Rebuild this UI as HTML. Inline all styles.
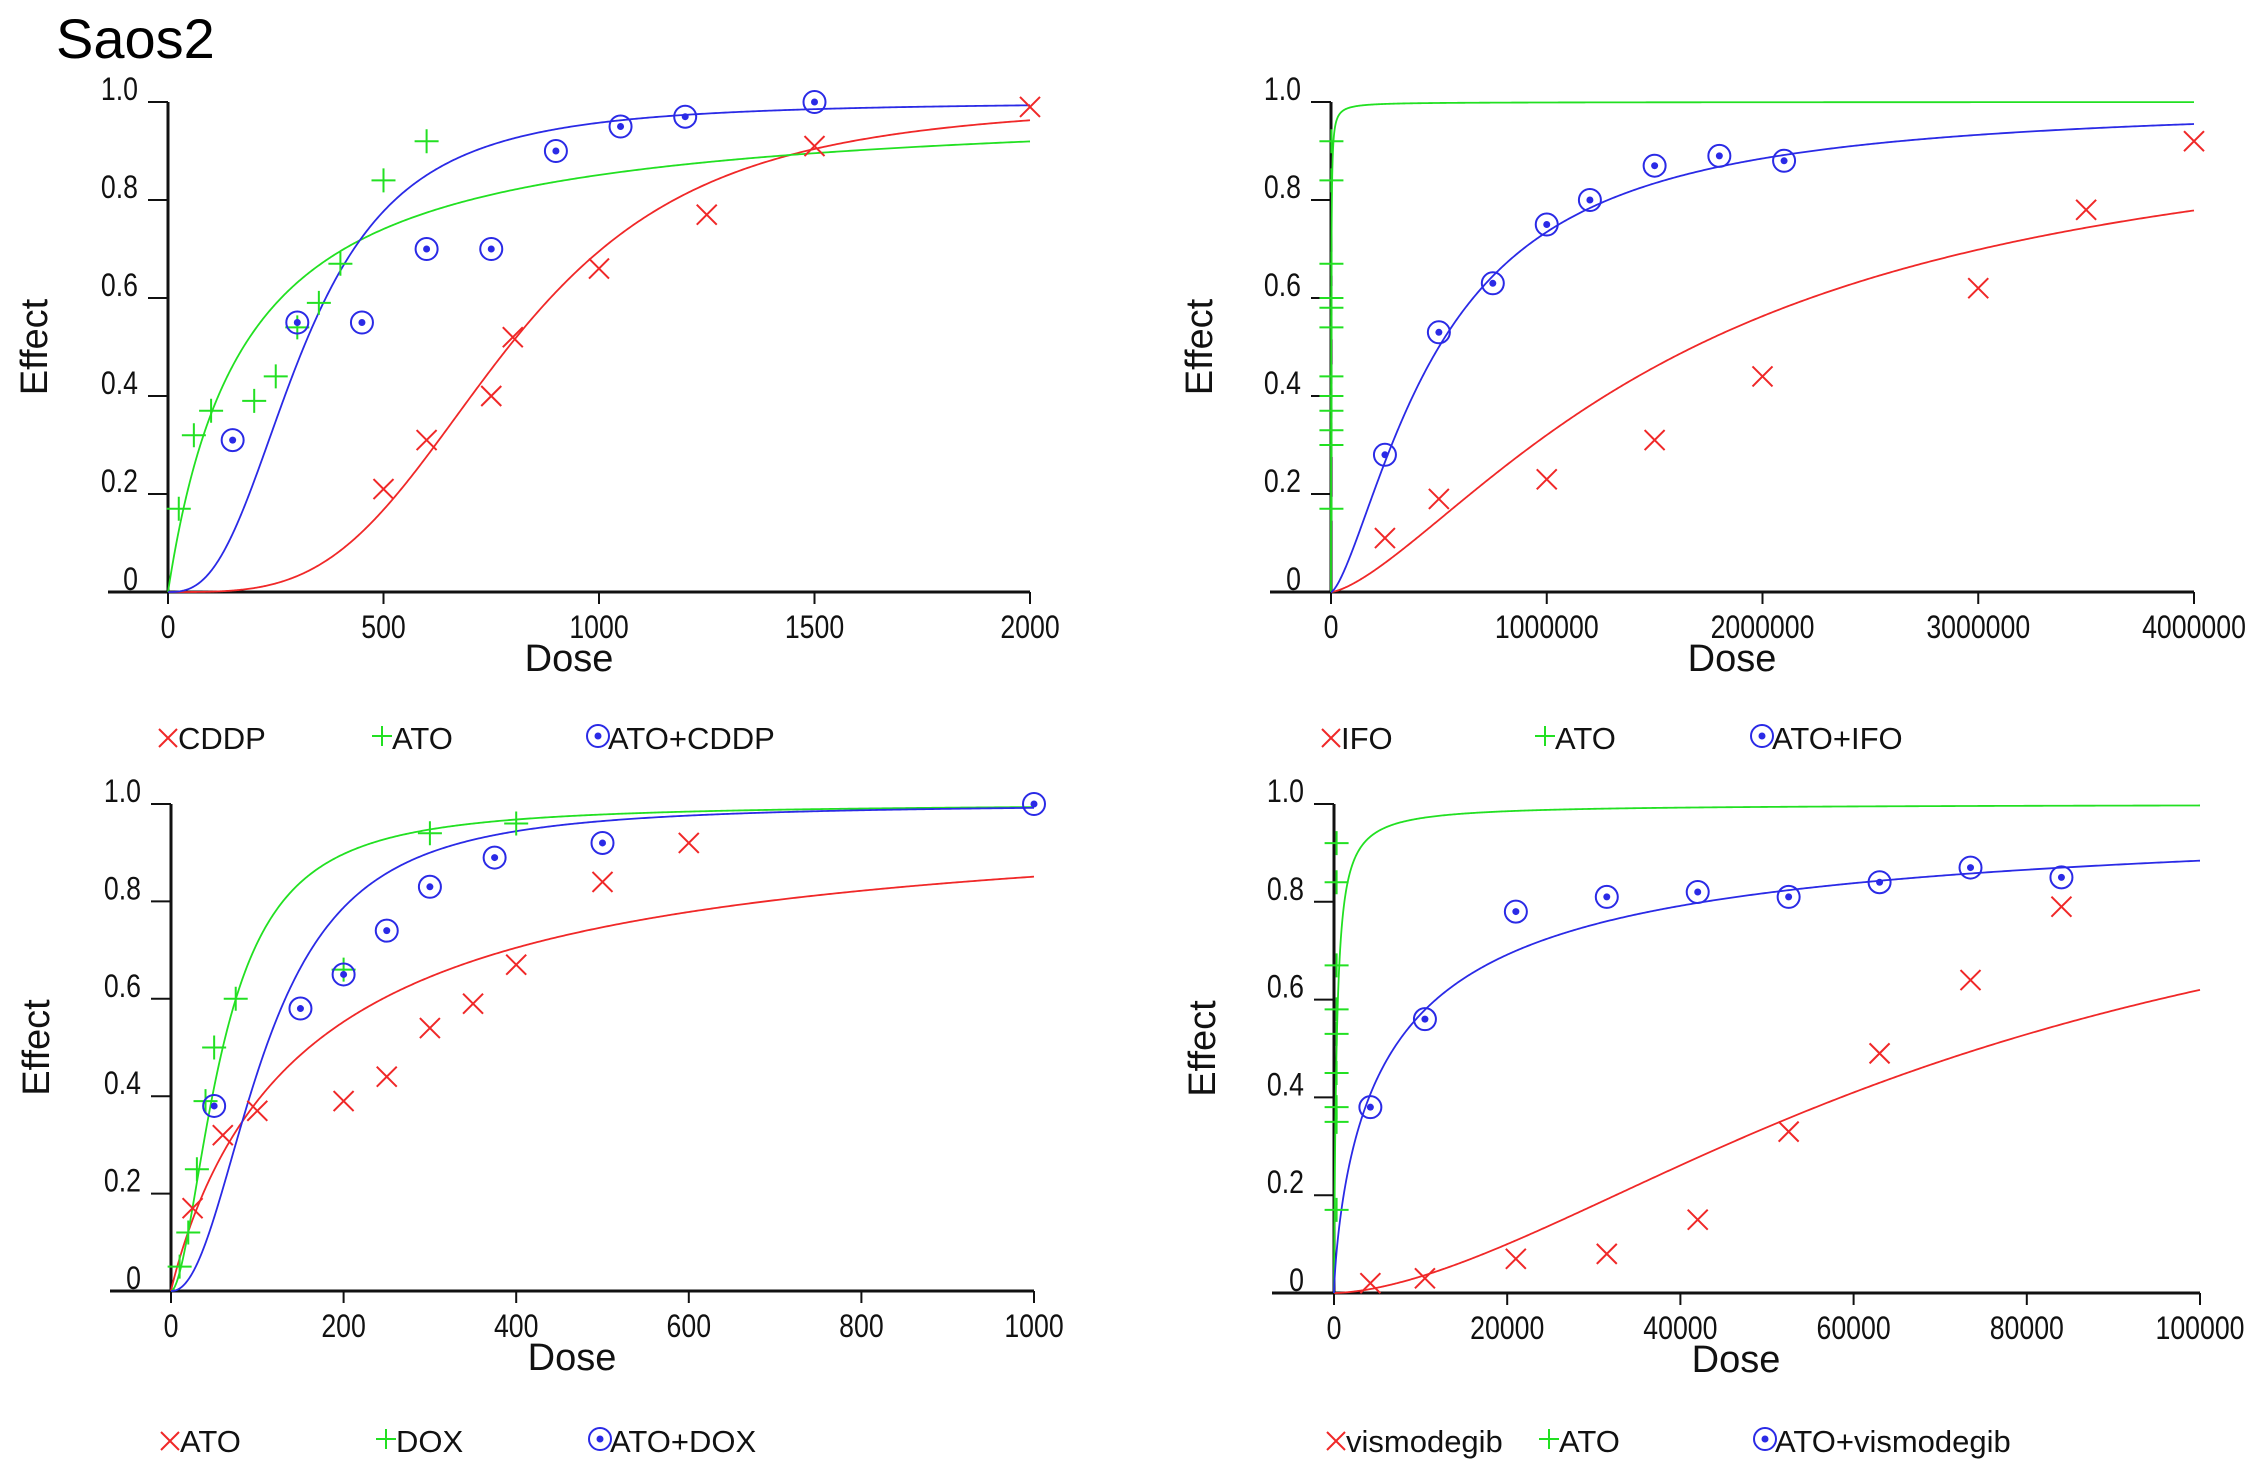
<!DOCTYPE html>
<html><head><meta charset="utf-8"><style>
html,body{margin:0;padding:0;background:#fff;}
svg{display:block;font-family:"Liberation Sans",Arial,sans-serif;}
</style></head><body>
<svg id="fig" width="2268" height="1476" viewBox="0 0 2268 1476">
<text x="56" y="58" font-size="56" fill="#000">Saos2</text>
</svg>
<script>
// ---- Panel 1: CDDP ----
const p1Ticks = [0, 500, 1000, 1500, 2000];
const p1RedX = [500, 600, 750, 800, 1000, 1250, 1500, 2000];
const p1RedY = [0.21, 0.31, 0.40, 0.52, 0.66, 0.77, 0.91, 0.99];
const p1GreenX = [25, 60, 100, 200, 250, 300, 350, 400, 500, 600];
const p1GreenY = [0.17, 0.32, 0.37, 0.39, 0.44, 0.54, 0.59, 0.67, 0.84, 0.92];
const p1BlueX = [150, 300, 450, 600, 750, 900, 1050, 1200, 1500];
const p1BlueY = [0.31, 0.55, 0.55, 0.70, 0.70, 0.90, 0.95, 0.97, 1.0];
const p1Fit = [[790, 3.5], [175, 1.0], [315, 2.7]]; // [Dm, m] red, green, blue
const p1Legend = ["CDDP", "ATO", "ATO+CDDP"];
// ---- Panel 2: IFO ----
const p2Ticks = [0, 1000000, 2000000, 3000000, 4000000];
const p2RedX = [250000, 500000, 1000000, 1500000, 2000000, 3000000, 3500000, 4000000];
const p2RedY = [0.11, 0.19, 0.23, 0.31, 0.44, 0.62, 0.78, 0.92];
const p2GreenX = [2000, 2000, 2000, 2000, 2000, 2000, 2000, 2000, 2000, 2000, 2000, 2000];
const p2GreenY = [0.17, 0.30, 0.33, 0.37, 0.40, 0.44, 0.54, 0.58, 0.60, 0.67, 0.84, 0.92];
const p2BlueX = [250000, 500000, 750000, 1000000, 1200000, 1500000, 1800000, 2100000];
const p2BlueY = [0.28, 0.53, 0.63, 0.75, 0.80, 0.87, 0.89, 0.88];
const p2Fit = [[1680000, 1.45], [1000, 1.0], [500000, 1.47]];
const p2Legend = ["IFO", "ATO", "ATO+IFO"];
// ---- Panel 3: DOX ----
const p3Ticks = [0, 200, 400, 600, 800, 1000];
const p3RedX = [25, 60, 100, 200, 250, 300, 350, 400, 500, 600];
const p3RedY = [0.17, 0.32, 0.37, 0.39, 0.44, 0.54, 0.59, 0.67, 0.84, 0.92];
const p3GreenX = [10, 20, 30, 40, 50, 75, 200, 300, 400];
const p3GreenY = [0.05, 0.12, 0.25, 0.39, 0.50, 0.60, 0.66, 0.94, 0.96];
const p3BlueX = [50, 150, 200, 250, 300, 375, 500, 1000];
const p3BlueY = [0.38, 0.58, 0.65, 0.74, 0.83, 0.89, 0.92, 1.0];
const p3Fit = [[160, 0.95], [60, 1.8], [110, 2.19]];
const p3Legend = ["ATO", "DOX", "ATO+DOX"];
// ---- Panel 4: vismodegib ----
const p4Ticks = [0, 20000, 40000, 60000, 80000, 100000];
const p4RedX = [4200, 10500, 21000, 31500, 42000, 52500, 63000, 73500, 84000];
const p4RedY = [0.02, 0.03, 0.07, 0.08, 0.15, 0.33, 0.49, 0.64, 0.79];
const p4GreenX = [300, 300, 300, 300, 300, 300, 300, 300, 300];
const p4GreenY = [0.17, 0.35, 0.38, 0.45, 0.53, 0.58, 0.67, 0.84, 0.92];
const p4BlueX = [4200, 10500, 21000, 31500, 42000, 52500, 63000, 73500, 84000];
const p4BlueY = [0.38, 0.56, 0.78, 0.81, 0.82, 0.81, 0.84, 0.87, 0.85];
const p4Fit = [[74600, 1.67], [300, 1.0], [6900, 0.76]];
const p4Legend = ["vismodegib", "ATO", "ATO+vismodegib"];
const yTicks = [0, 0.2, 0.4, 0.6, 0.8, 1.0];
const yTickLabels = ["0", "0.2", "0.4", "0.6", "0.8", "1.0"];

const NS = "http://www.w3.org/2000/svg";
const svg = document.getElementById("fig");
const RED = "#f02828", GREEN = "#22e022", BLUE = "#2a2ae6";
function mk(tag, attrs, parent) {
  const e = document.createElementNS(NS, tag);
  for (const k in attrs) e.setAttribute(k, attrs[k]);
  parent.appendChild(e);
  return e;
}
function drawX(g, cx, cy, s) {
  mk("path", {d: `M${cx-s},${cy-s}L${cx+s},${cy+s}M${cx-s},${cy+s}L${cx+s},${cy-s}`, stroke: RED, "stroke-width": 2, fill: "none"}, g);
}
function drawPlus(g, cx, cy, s) {
  mk("path", {d: `M${cx-s},${cy}L${cx+s},${cy}M${cx},${cy-s}L${cx},${cy+s}`, stroke: GREEN, "stroke-width": 2, fill: "none"}, g);
}
function drawCirc(g, cx, cy) {
  mk("circle", {cx: cx, cy: cy, r: 11, stroke: BLUE, "stroke-width": 2, fill: "none"}, g);
  mk("circle", {cx: cx, cy: cy, r: 3.5, fill: BLUE}, g);
}
function panel(name, L, R, T, B, axStart, ticks, xmax, rX, rY, gX, gY, bX, bY, fit, legend, legY, legX, effX) {
  const g = mk("g", {}, svg);
  
  
  const sx = v => L + (v / xmax) * (R - L);
  const sy = v => B - v * (B - T);
  const ax = mk("path", {d: `M${axStart},${B}L${R},${B}M${L},${B}L${L},${T}`, stroke: "#111", "stroke-width": 3, fill: "none"}, g);
  
  
  ticks.forEach(t => {
    mk("line", {x1: sx(t), x2: sx(t), y1: B, y2: B + 12, stroke: "#111", "stroke-width": 2}, g);
    const tl = mk("text", {x: 0, y: 0, "font-size": 29, "text-anchor": "middle", fill: "#111", transform: `translate(${sx(t)},${B + 46}) scale(0.92,1.12)`}, g);
    tl.textContent = String(t);
    
    
  });
  yTicks.forEach((t, i) => {
    mk("line", {x1: L - 20, x2: L, y1: sy(t), y2: sy(t), stroke: "#111", "stroke-width": 2}, g);
    const tl = mk("text", {x: 0, y: 0, "font-size": 29, "text-anchor": "end", fill: "#111", transform: `translate(${L - 30},${sy(t) - 2}) scale(0.92,1.12)`}, g);
    tl.textContent = yTickLabels[i];
    
    
  });
  const xt = mk("text", {x: (axStart + R) / 2, y: B + 79, "font-size": 38, "text-anchor": "middle", fill: "#111"}, g);
  xt.textContent = "Dose";
  
  
  const yt = mk("text", {x: 0, y: 0, "font-size": 38, "text-anchor": "middle", fill: "#111", transform: `translate(${effX},${(T + B) / 2}) rotate(-90)`}, g);
  yt.textContent = "Effect";
  
  
  const cols = [RED, GREEN, BLUE];
  fit.forEach((f, k) => {
    let d = "";
    for (let i = 0; i <= 600; i++) {
      const x = xmax * Math.pow(i / 600, 1.6);
      const fa = x <= 0 ? 0 : 1 / (1 + Math.pow(f[0] / x, f[1]));
      d += (i ? "L" : "M") + sx(x).toFixed(2) + "," + sy(fa).toFixed(2);
    }
    const p = mk("path", {d: d, stroke: cols[k], "stroke-width": 1.8, fill: "none"}, g);
    
    
  });
  rX.forEach((x, i) => drawX(g, sx(x), sy(rY[i]), 10));
  gX.forEach((x, i) => drawPlus(g, sx(x), sy(gY[i]), 12));
  bX.forEach((x, i) => drawCirc(g, sx(x), sy(bY[i])));
  const lg = mk("g", {}, g);
  
  
  legX.forEach((lx, k) => {
    if (k === 0) drawX(lg, lx, legY - 11, 9);
    if (k === 1) drawPlus(lg, lx, legY - 13, 10);
    if (k === 2) drawCirc(lg, lx, legY - 13);
    const t = mk("text", {x: lx + 10, y: legY, "font-size": 31, fill: "#111"}, lg);
    t.textContent = legend[k];
    
    
  });
}
panel("panel-cddp", 168, 1030, 102, 592, 108, p1Ticks, 2000, p1RedX, p1RedY, p1GreenX, p1GreenY, p1BlueX, p1BlueY, p1Fit, p1Legend, 749, [168, 382, 598], 47);
panel("panel-ifo", 1331, 2194, 102, 592, 1270, p2Ticks, 4000000, p2RedX, p2RedY, p2GreenX, p2GreenY, p2BlueX, p2BlueY, p2Fit, p2Legend, 749, [1331, 1545, 1762], 1212);
panel("panel-dox", 171, 1034, 804, 1291, 110, p3Ticks, 1000, p3RedX, p3RedY, p3GreenX, p3GreenY, p3BlueX, p3BlueY, p3Fit, p3Legend, 1452, [170, 386, 600], 49);
panel("panel-vismodegib", 1334, 2200, 804, 1293, 1272, p4Ticks, 100000, p4RedX, p4RedY, p4GreenX, p4GreenY, p4BlueX, p4BlueY, p4Fit, p4Legend, 1452, [1336, 1549, 1765], 1215);
</script>
</body></html>
